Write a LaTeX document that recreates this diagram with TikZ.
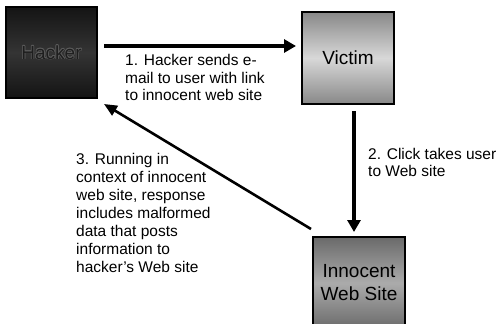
\documentclass[tikz,border=0pt]{standalone}
\usepackage{fontspec}
\setmainfont{Liberation Sans}
\usetikzlibrary{arrows.meta}
\definecolor{hackdark}{HTML}{141414}
\definecolor{hackmid}{HTML}{343434}
\definecolor{vicedge}{HTML}{888888}
\definecolor{vicmid}{HTML}{D8D8D8}
\definecolor{innedge}{HTML}{6A6A6A}
\definecolor{innmid}{HTML}{ABABAB}
\definecolor{engrave}{HTML}{5C5C5C}
\definecolor{engfill}{HTML}{1E1E1E}
\tikzset{
  boxnode/.style={draw=black, line width=2pt, minimum width=91pt, minimum height=91pt, inner sep=0pt, align=center,
    font=\fontsize{19}{23}\selectfont, shading angle=45},
  lbl/.style={anchor=west, align=left, inner sep=0pt, font=\fontsize{15.5}{17.5}\selectfont},
  bigarrow/.style={line width=4pt, -{Triangle[length=12pt,width=13pt]}},
  thinarrow/.style={line width=2.6pt, -{Triangle[length=13pt,width=11pt]}}
}
\begin{document}
\begin{tikzpicture}[x=1pt,y=-1pt]
\useasboundingbox (0,0) rectangle (501,324);
\begin{scope}
\clip (0,0) rectangle (501,324);
\node[boxnode, top color=hackdark, bottom color=hackdark, middle color=hackmid] (hacker) at (51.5,52.5) {};
\node[boxnode, minimum width=92pt, minimum height=92pt, top color=vicedge, bottom color=vicedge, middle color=vicmid] (victim) at (348,58) {Victim};
\node[boxnode, minimum width=92pt, minimum height=92pt, top color=innedge, bottom color=innedge, middle color=innmid] (innocent) at (359,283) {Innocent\\Web Site};
\end{scope}
% engraved Hacker label
\foreach \dx/\dy in {-0.7/0,0.7/0,0/-0.7,0/0.7,-0.5/-0.5,0.5/0.5,-0.5/0.5,0.5/-0.5}{
  \node[text=engrave, font=\fontsize{19}{23}\selectfont, inner sep=0pt] at ([shift={(\dx,\dy)}]hacker.center) {Hacker};
}
\node[text=engfill, font=\fontsize{19}{23}\selectfont, inner sep=0pt] (hackerlabel) at (hacker.center) {Hacker};
% connector endpoints
\coordinate (a1s) at ([shift={(6,-6.5)}]hacker.east);
\coordinate (vw) at ([xshift=-5pt]victim.west);
\coordinate (a1e) at (a1s -| vw);
\coordinate (a2s) at ([shift={(6,6)}]victim.south);
\coordinate (a2e) at ([shift={(-5,-4)}]innocent.north);
\coordinate (a3s) at ([shift={(-1,-7)}]innocent.north west);
\coordinate (a3e) at ([shift={(6,5)}]hacker.south east);
\draw[bigarrow] (a1s) -- (a1e);
\draw[bigarrow] (a2s) -- (a2e);
\draw[thinarrow] (a3s) -- (a3e);
\node[lbl] (t1) at (125,77.5) {1. Hacker sends e-\\mail to user with link\\to innocent web site};
\node[lbl] (t2) at (368,162.5) {2. Click takes user\\to Web site};
\node[lbl, font=\fontsize{15.5}{18}\selectfont] (t3) at (76,212.5) {3. Running in\\context of innocent\\web site, response\\includes malformed\\data that posts\\information to\\hacker’s Web site};
\end{tikzpicture}
\end{document}
